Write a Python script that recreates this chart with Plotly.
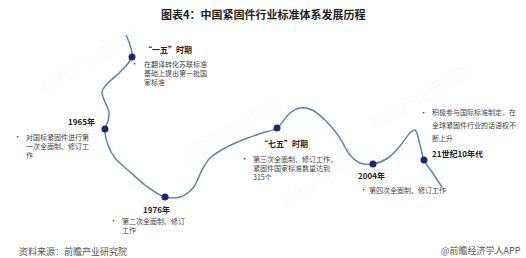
import plotly.graph_objects as go

# ---- data ----
title = "图表4：中国紧固件行业标准体系发展历程"
source = "资料来源：前瞻产业研究院"
credit = "@前瞻经济学人APP"

# timeline path (diagram units, y grows downward)
path_x = [126, 130, 132, 120, 106, 102, 105, 109, 108, 105, 108, 115, 128, 145, 165,
          180, 193, 202, 210, 225, 245, 262, 277, 290, 300, 312, 325, 338, 350, 360,
          373, 388, 400, 410, 415, 420, 424, 432, 442]
path_y = [35, 45, 57, 72, 85, 92, 102, 112, 121, 129, 145, 158, 170, 185, 197,
          197, 188, 170, 158, 148, 139, 133, 128, 113, 108, 110, 120, 135, 155, 163,
          164, 158, 146, 133, 130, 145, 160, 172, 187]

milestones = ["“一五”时期", "1965年", "1976年", "“七五”时期", "2004年", "21世纪10年代"]
milestone_x = [132, 105, 165, 277, 373, 424]
milestone_y = [57, 129, 197, 128, 164, 160]
descriptions = [
    ["在翻译转化苏联标准", "基础上提出第一批国", "家标准"],
    ["对国标紧固件进行第", "一次全面制、修订工", "作"],
    ["第二次全面制、修订", "工作"],
    ["第三次全面制、修订工作，", "紧固件国家标准数量达到", "315个"],
    ["第四次全面制、修订工作"],
    ["积极参与国际标准制定，在", "全球紧固件行业的话语权不", "断上升"],
]

# ---- layout of labels ----
label_pos = [(142, 49, "left"), (97, 121, "right"), (156, 209, "center"),
             (258, 143, "left"), (371, 175, "center"), (430, 153, "left")]
bullet_pos = [(134, 63), (17, 136), (113, 220), (244, 158), (363, 189), (423, 112)]
text_x = [143, 25, 121, 252, 368, 431]
line_gap = [None, None, None, None, None, 13]

FONT = "Noto Sans CJK SC"
fig = go.Figure()

# faint watermarks
for wx, wy in [(230, 130), (420, 95), (330, 175), (90, 60)]:
    fig.add_annotation(x=wx, y=wy, text="前瞻产业研究院", showarrow=False, textangle=-30,
                       font=dict(family=FONT, size=16, color="rgba(160,160,160,0.07)"))

fig.add_trace(go.Scatter(x=path_x, y=path_y, mode="lines", line=dict(shape="spline", smoothing=1.0,
                         color="#5a87aa", width=1.5), hoverinfo="skip"))
fig.add_trace(go.Scatter(x=milestone_x, y=milestone_y, mode="markers",
                         marker=dict(size=7, color="#1c2b6b"), hoverinfo="skip"))

for i, name in enumerate(milestones):
    lx, ly, anc = label_pos[i]
    fig.add_annotation(x=lx, y=ly, text="<b>" + name + "</b>", showarrow=False, xanchor=anc,
                       yanchor="middle", font=dict(family=FONT, size=8, color="#222222"))
    bx, by = bullet_pos[i]
    fig.add_annotation(x=bx, y=by, text="•", showarrow=False, xanchor="center", yanchor="middle",
                       font=dict(family=FONT, size=7, color="#333333"))
    if line_gap[i] is None:
        fig.add_annotation(x=text_x[i], y=by - 5.5, text="<br>".join(descriptions[i]),
                           showarrow=False, xanchor="left", yanchor="top", align="left",
                           borderpad=0, font=dict(family=FONT, size=7, color="#444444"))
    else:
        for j, line in enumerate(descriptions[i]):
            fig.add_annotation(x=text_x[i], y=by + j * line_gap[i], text=line, showarrow=False,
                               xanchor="left", yanchor="middle", borderpad=0,
                               font=dict(family=FONT, size=7, color="#444444"))

fig.add_annotation(x=263, y=14, text="<b>" + title + "</b>", showarrow=False, xanchor="center",
                   yanchor="middle", font=dict(family=FONT, size=11, color="#222222"))
fig.add_annotation(x=17, y=251, text=source, showarrow=False, xanchor="left", yanchor="middle",
                   font=dict(family=FONT, size=9, color="#555555"))
fig.add_annotation(x=523, y=250, text=credit, showarrow=False, xanchor="right", yanchor="middle",
                   font=dict(family=FONT, size=9, color="#555555"))

fig.update_layout(width=526, height=258, margin=dict(l=0, r=0, t=0, b=0),
                  paper_bgcolor="white", plot_bgcolor="white", showlegend=False,
                  xaxis=dict(range=[0, 526], visible=False, fixedrange=True),
                  yaxis=dict(range=[258, 0], visible=False, fixedrange=True))
fig.write_html("out.html", config={"displayModeBar": False},
               post_script="document.body.style.margin='0';document.body.style.overflow='hidden';")
